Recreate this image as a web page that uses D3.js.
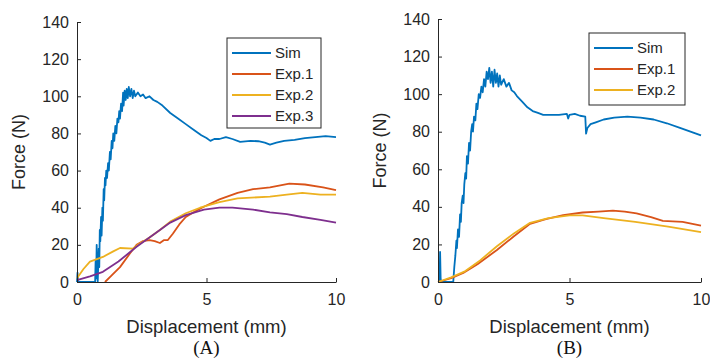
<!DOCTYPE html>
<html>
<head>
<meta charset="utf-8">
<script src="https://cdn.jsdelivr.net/npm/d3@7"></script>
<style>
  body { margin: 0; background: #fff; }
  svg text { font-family: "Liberation Sans", Arial, sans-serif; fill: #262626; }
</style>
</head>
<body>
<div id="chart"></div>
<script>
// ---- data: [displacement (mm), force (N)] ----
var simA = [[0,0],[0.02,5],[0.04,0],[0.7,0],[0.72,12],[0.74,2],[0.76,20],[0.78,5],[0.8,0],
  [0.84,18],[0.86,8],[0.88,28],[0.9,22],[0.93,35],[0.95,25],[0.98,40],[1.0,33],[1.03,50],
  [1.05,44],[1.08,56],[1.1,52],[1.13,60],[1.16,56],[1.2,64],[1.23,60],[1.27,70],[1.3,66],
  [1.34,76],[1.37,72],[1.4,80],[1.44,76],[1.48,84],[1.52,80],[1.56,88],[1.6,86],[1.63,92],
  [1.66,88],[1.7,96],[1.74,92],[1.78,102],[1.8,95],[1.84,103],[1.88,98],[1.92,104],[1.96,99],
  [2.0,105],[2.05,100],[2.1,104],[2.15,99],[2.2,103],[2.25,100],[2.35,102],[2.45,100],
  [2.55,101],[2.65,99],[2.8,100],[2.95,98],[3.1,97],[3.3,95],[3.6,91],[3.9,88],[4.2,85],
  [4.5,82],[4.8,79],[5.0,77.5],[5.15,76],[5.3,77],[5.5,77],[5.75,78],[6.0,77],[6.3,75.5],
  [6.7,76],[7.0,75.8],[7.25,75],[7.45,74],[7.7,75],[8.0,76],[8.4,76.5],[8.8,77.5],[9.2,78],
  [9.6,78.5],[10,78]];
var exp1A = [[1.08,0],[1.3,3],[1.66,8],[2.05,15.5],[2.3,20],[2.55,22],[2.8,22.5],[3.0,22],
  [3.2,21],[3.35,22.5],[3.5,22.5],[3.7,26],[3.95,31],[4.2,35],[4.55,38],[4.9,40.5],[5.5,44.5],
  [6.2,48],[6.8,50],[7.45,51],[8.2,53],[8.8,52.5],[9.5,51],[10,49.5]];
var exp2A = [[0,2],[0.25,7],[0.5,11],[1.0,13.5],[1.4,16.5],[1.66,18.3],[2.16,18],[2.4,20.5],
  [2.8,24],[3.2,28],[3.6,32.5],[4.2,37],[4.75,40],[5.5,43],[6.2,45],[7.45,46],[8.1,47],
  [8.7,48],[9.4,47],[10,47]];
var exp3A = [[0,1],[0.5,3],[1.0,5.5],[1.6,11],[2.3,19],[3.0,26],[3.6,32],[4.2,36],[4.9,39],
  [5.5,40],[6.0,40],[6.8,39],[7.45,37.5],[8.1,36.5],[8.7,35],[9.4,33.5],[10,32]];

var simB = [[0,0],[0.06,0],[0.08,16],[0.1,2],[0.12,0],[0.58,0],[0.62,8],[0.66,14],[0.7,22],
  [0.72,18],[0.76,28],[0.8,24],[0.84,36],[0.87,32],[0.9,42],[0.94,46],[0.97,42],[1.0,52],
  [1.04,58],[1.07,55],[1.1,67],[1.14,63],[1.18,74],[1.22,70],[1.26,80],[1.3,84],[1.33,80],
  [1.37,88],[1.42,86],[1.46,95],[1.5,92],[1.55,100],[1.6,98],[1.65,104],[1.7,101],[1.75,108],
  [1.8,104],[1.85,112],[1.9,108],[1.95,114],[2.0,106],[2.05,112],[2.1,104],[2.15,113],
  [2.2,106],[2.25,111],[2.3,104],[2.35,110],[2.4,105],[2.5,108],[2.6,104],[2.7,106],
  [2.8,102],[2.9,101],[3.0,99],[3.2,96],[3.4,93],[3.6,91],[3.8,90],[4.0,89],[4.3,89],
  [4.6,89],[4.9,89.5],[4.95,87],[5.0,89],[5.2,89.5],[5.4,88.5],[5.6,88],[5.63,79],[5.68,82],
  [5.8,84],[6.0,85],[6.3,86.5],[6.7,87.5],[7.2,88],[7.7,87.5],[8.2,86.5],[8.7,84.5],
  [9.2,82],[9.6,80],[10,78]];
var exp1B = [[0,0],[0.5,2],[0.96,4.8],[1.5,9.5],[2.24,17],[2.9,24.5],[3.5,31],[4.1,33.5],
  [4.76,35.6],[5.5,37],[6.1,37.5],[6.65,38],[7.1,37.5],[7.55,36.5],[8.1,34.5],[8.55,32.5],
  [9.3,32],[10,30]];
var exp2B = [[0,0],[0.5,2.5],[1.0,5.5],[1.6,11.5],[2.24,19],[2.9,26],[3.5,31.5],[4.2,34],
  [5.0,35.5],[5.5,35.5],[6.3,34],[7.5,32],[8.75,29.5],[10,26.5]];

var seriesNames = ["Sim", "Exp.1", "Exp.2", "Exp.3"];
var seriesColors = ["#0072BD", "#D95319", "#EDB120", "#7E2F8E"];
var xTicks = [0, 5, 10];
var yTicks = [0, 20, 40, 60, 80, 100, 120, 140];

var svg = d3.select("#chart").append("svg")
  .attr("width", 710)
  .attr("height", 360);

var panels = [
  {left: 77, right: 336, top: 22, bottom: 282, series: [simA, exp1A, exp2A, exp3A],
   letter: "(A)", legend: {x: 227, y: 38, w: 94, h: 90}},
  {left: 438, right: 701, top: 19, bottom: 282, series: [simB, exp1B, exp2B],
   letter: "(B)", legend: {x: 589, y: 33, w: 96, h: 72}}
];

panels.forEach(function(p) {
  var x = d3.scaleLinear().domain([0, 10]).range([p.left, p.right]);
  var y = d3.scaleLinear().domain([0, 140]).range([p.bottom, p.top]);
  var g = svg.append("g");

  var line = d3.line()
    .x(function(d){ return x(d[0]); })
    .y(function(d){ return y(d[1]); });

  p.series.forEach(function(s, i) {
    g.append("path")
      .datum(s)
      .attr("d", line)
      .attr("fill", "none")
      .attr("stroke", seriesColors[i])
      .attr("stroke-width", 1.8)
      .attr("stroke-linejoin", "round");
  });

  // axes, MATLAB style: ticks inside, no box
  var xAxis = g.append("g")
    .attr("transform", "translate(0," + p.bottom + ")")
    .call(d3.axisBottom(x).tickValues(xTicks).tickSizeInner(-4).tickSizeOuter(0).tickPadding(12));
  var yAxis = g.append("g")
    .attr("transform", "translate(" + p.left + ",0)")
    .call(d3.axisLeft(y).tickValues(yTicks).tickSizeInner(-4).tickSizeOuter(0).tickPadding(8));
  [xAxis, yAxis].forEach(function(a) {
    a.select(".domain").attr("stroke", "#262626");
    a.selectAll(".tick line").attr("stroke", "#262626");
    a.selectAll("text").attr("font-size", 16).style("font-family", "Liberation Sans, Arial, sans-serif").attr("fill", "#262626");
  });

  var cx = (p.left + p.right) / 2;
  g.append("text")
    .attr("x", cx).attr("y", 333)
    .attr("text-anchor", "middle")
    .attr("font-size", 18.5)
    .text("Displacement (mm)");
  g.append("text")
    .attr("transform", "translate(" + (p.left - 52) + "," + ((p.top + p.bottom) / 2) + ") rotate(-90)")
    .attr("text-anchor", "middle")
    .attr("font-size", 18)
    .text("Force (N)");
  g.append("text")
    .attr("x", cx).attr("y", 354)
    .attr("text-anchor", "middle")
    .attr("font-size", 19)
    .style("font-family", "Liberation Serif, Times New Roman, serif")
    .style("fill", "#111")
    .text(p.letter);

  // legend
  var L = p.legend;
  g.append("rect")
    .attr("x", L.x).attr("y", L.y).attr("width", L.w).attr("height", L.h)
    .attr("fill", "#fff").attr("stroke", "#262626").attr("stroke-width", 1);
  p.series.forEach(function(s, i) {
    var ly = L.y + 15 + i * 21;
    g.append("line")
      .attr("x1", L.x + 5).attr("x2", L.x + 44)
      .attr("y1", ly).attr("y2", ly)
      .attr("stroke", seriesColors[i]).attr("stroke-width", 1.8);
    g.append("text")
      .attr("x", L.x + 48).attr("y", ly + 5)
      .attr("font-size", 15)
      .text(seriesNames[i]);
  });
});
</script>
</body>
</html>
